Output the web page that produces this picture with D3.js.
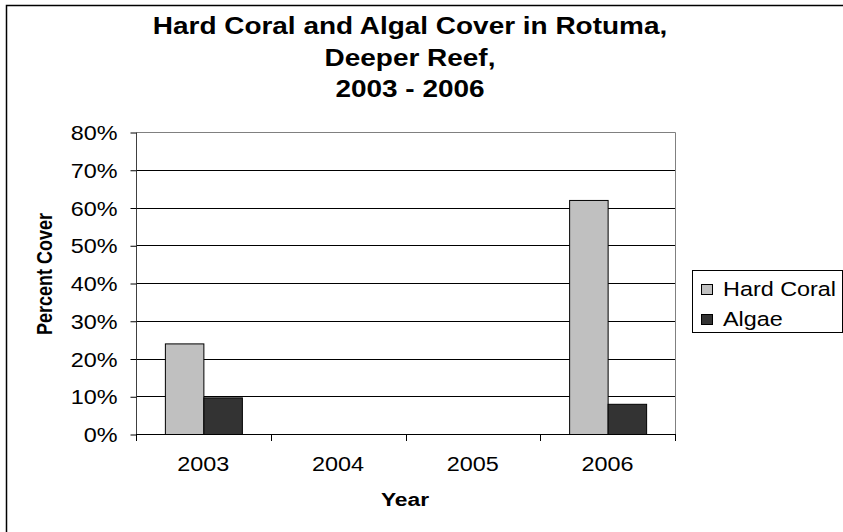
<!DOCTYPE html>
<html><head><meta charset="utf-8">
<script src="https://cdn.jsdelivr.net/npm/d3@7/dist/d3.min.js"></script>
<style>body{margin:0;background:#fff}svg{display:block;font-family:"Liberation Sans",Arial,sans-serif}</style>
</head><body><svg id="c" width="843" height="532"></svg>
<script>
const years = ["2003","2004","2005","2006"];
const seriesNames = ["Hard Coral","Algae"];
const hardCoral = [0.24, null, null, 0.62];
const algae = [0.097, null, null, 0.08];
const yTicks = [0,0.1,0.2,0.3,0.4,0.5,0.6,0.7,0.8];
const colors = ["#c0c0c0","#333333"];
const titleLines = ["Hard Coral and Algal Cover in Rotuma,","Deeper Reef,","2003 - 2006"];

const SX = 1.2; // horizontal stretch of the original rendering
const svg = d3.select("#c");
function stext(g, x, y, str, opts){
  const t = g.append("text").attr("transform",`translate(${x},${y}) scale(${SX},1)` + (opts.rot?` rotate(${opts.rot})`:""))
    .attr("text-anchor",opts.anchor||"middle").attr("font-size",opts.size)
    .attr("font-weight",opts.bold?"bold":null).attr("fill","#000").text(str);
  return t;
}

// outer chart border
svg.append("rect").attr("x",6.5).attr("y",5.5).attr("width",900).attr("height",600)
  .attr("fill","#fff").attr("stroke","#000").attr("stroke-width",1.5);

const L=136, R=675, T=132, B=434;
const x = d3.scaleBand().domain(years).range([L,R]).paddingInner(0).paddingOuter(0);
const y = d3.scaleLinear().domain([0,0.8]).range([B,T]);
const bw = x.bandwidth()/3.5;

// gridlines
svg.append("g").selectAll("line").data(yTicks.filter(d=>d>0 && d<0.8)).join("line")
  .attr("x1",L).attr("x2",R).attr("y1",d=>Math.round(y(d))+0.5).attr("y2",d=>Math.round(y(d))+0.5)
  .attr("stroke","#000").attr("stroke-width",1);
// plot border top/right gray
svg.append("path").attr("d",`M${L+0.5},${T+0.5}H${R+0.5}V${B}`).attr("fill","none").attr("stroke","#808080");

// bars
const data = [hardCoral, algae];
data.forEach((vals,si)=>{
  svg.append("g").selectAll("rect").data(years.map((yr,i)=>({yr,v:vals[i]})).filter(d=>d.v!=null)).join("rect")
    .attr("x",d=>x(d.yr)+0.75*bw+si*bw+0.5)
    .attr("y",d=>y(d.v)+0.5)
    .attr("width",bw)
    .attr("height",d=>B-y(d.v))
    .attr("fill",colors[si]).attr("stroke","#000").attr("stroke-width",1);
});

// y axis
const ya = svg.append("g").attr("transform",`translate(${L+0.5},0.5)`)
  .call(d3.axisLeft(y).tickValues(yTicks).tickFormat(d3.format(".0%")).tickSize(6));
ya.select(".domain").attr("stroke","#404040").attr("d",`M0,${T}V${B}`);
ya.selectAll(".tick line").attr("stroke","#000");
ya.selectAll(".tick text").remove();
ya.selectAll(".tick").each(function(d){
  stext(d3.select(this), -19, 7, d3.format(".0%")(d), {size:19.5, anchor:"end"});
});

// x axis
const xa = svg.append("g").attr("transform",`translate(0,${B+0.5})`)
  .call(d3.axisBottom(x).tickSize(0));
xa.select(".domain").attr("stroke","#000").attr("d",`M${L},0H${R}`);
xa.selectAll(".tick text").remove();
xa.selectAll(".tick").each(function(d){
  stext(d3.select(this), 0, 36, d, {size:19.5});
});
// category boundary ticks
svg.append("g").selectAll("line").data(years.concat(["end"])).join("line")
  .attr("x1",(d,i)=>Math.round(L+i*x.bandwidth())+0.5).attr("x2",(d,i)=>Math.round(L+i*x.bandwidth())+0.5)
  .attr("y1",B).attr("y2",B+7).attr("stroke","#000");

// titles
titleLines.forEach((t,i)=>stext(svg, 410, 34+i*31.5, t, {size:23.3, bold:true}));
stext(svg, 405, 506, "Year", {size:19, bold:true});
stext(svg, 52, 274, "Percent Cover", {size:18, bold:true, rot:-90});

// legend
const lg = svg.append("g");
lg.append("rect").attr("x",692.5).attr("y",270.5).attr("width",150).attr("height",62).attr("fill","#fff").attr("stroke","#000");
seriesNames.forEach((n,i)=>{
  lg.append("rect").attr("x",701.5).attr("y",284.5+i*30).attr("width",11).attr("height",10).attr("fill",colors[i]).attr("stroke","#000");
  stext(lg, 723, 296+i*30, n, {size:19.5, anchor:"start"});
});
</script></body></html>
